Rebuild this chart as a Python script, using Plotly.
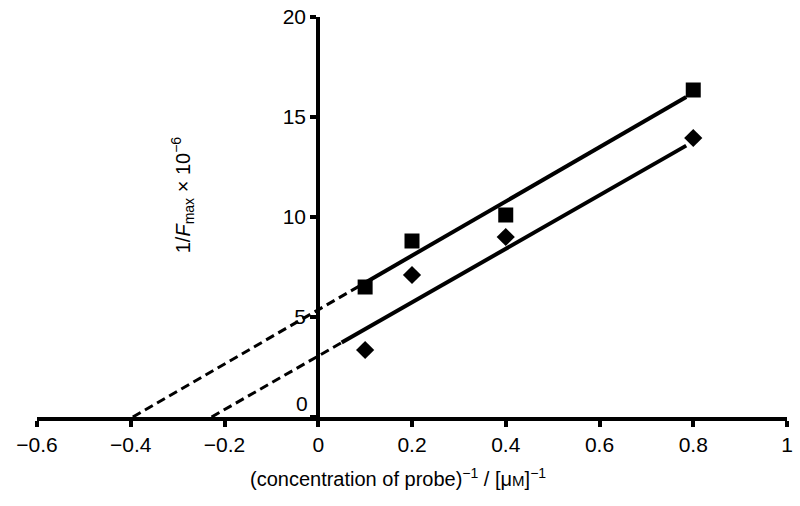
import plotly.graph_objects as go

# Data
conc_inv = [0.1, 0.2, 0.4, 0.8]
squares_y = [6.5, 8.8, 10.1, 16.35]
diamonds_y = [3.35, 7.1, 9.0, 13.95]

# Fitted lines (slope, intercept)
sq_slope, sq_int = 13.55, 5.36
di_slope, di_int = 13.4, 3.05
sq_solid_start, di_solid_start = 0.1, 0.05
fit_end = 0.785

x_ticks = [-0.6, -0.4, -0.2, 0, 0.2, 0.4, 0.6, 0.8, 1]
y_ticks = [0, 5, 10, 15, 20]
y_ticktext = ["", "5", "10", "15", "20"]

FONT = "Liberation Sans, Arial, sans-serif"

def line_pts(m, b, x0, x1):
    return [x0, x1], [m * x0 + b, m * x1 + b]

fig = go.Figure()

for m, b, xs in [(sq_slope, sq_int, sq_solid_start), (di_slope, di_int, di_solid_start)]:
    x_zero = -b / m
    dx, dy = line_pts(m, b, x_zero, xs)
    fig.add_trace(go.Scatter(x=dx, y=dy, mode="lines",
                             line=dict(color="black", width=3, dash="9px,5px"),
                             showlegend=False, hoverinfo="skip"))
    sx, sy = line_pts(m, b, xs, fit_end)
    fig.add_trace(go.Scatter(x=sx, y=sy, mode="lines",
                             line=dict(color="black", width=4),
                             showlegend=False, hoverinfo="skip"))

fig.add_trace(go.Scatter(x=conc_inv, y=squares_y, mode="markers",
                         marker=dict(symbol="square", size=15, color="black"),
                         showlegend=False, cliponaxis=False))
fig.add_trace(go.Scatter(x=conc_inv, y=diamonds_y, mode="markers",
                         marker=dict(symbol="diamond", size=14, color="black"),
                         showlegend=False, cliponaxis=False))

fig.update_layout(
    width=800, height=506,
    margin=dict(l=37, r=13, t=17, b=89),
    plot_bgcolor="white", paper_bgcolor="white",
    font=dict(family=FONT, size=20, color="black"),
    xaxis=dict(range=[-0.6, 1], domain=[0, 1], tickvals=x_ticks,
               showline=True, linewidth=4, linecolor="black",
               ticks="outside", ticklen=6, tickwidth=3.5, tickcolor="black",
               showgrid=False, zeroline=False, automargin=False,
               tickfont=dict(size=21, family=FONT)),
    yaxis=dict(range=[0, 20], anchor="free", position=0.375,
               tickvals=y_ticks, ticktext=y_ticktext,
               showline=True, linewidth=4, linecolor="black",
               ticks="outside", ticklen=6, tickwidth=3.5, tickcolor="black",
               showgrid=False, zeroline=False, automargin=False,
               tickfont=dict(size=21, family=FONT)),
    annotations=[
        dict(x=0, y=0, xref="x", yref="y", text="0", showarrow=False,
             xanchor="right", yanchor="bottom", xshift=-8, yshift=0,
             font=dict(size=21, family=FONT)),
        dict(x=0.195, y=0.555, xref="paper", yref="paper", textangle=-90,
             xanchor="center", yanchor="middle",
             text="1/<i>F</i><sub>max</sub> × 10<sup>−6</sup>", showarrow=False,
             font=dict(size=20, family=FONT)),
        dict(x=0.481, y=-0.152, xref="paper", yref="paper", yanchor="middle",
             text="(concentration of probe)<sup>−1</sup> / [μ<span style='font-size:15px'>M</span>]<sup>−1</sup>",
             showarrow=False, font=dict(size=20, family=FONT)),
    ],
)

fig.write_html("out.html", config={"displayModeBar": False},
               post_script="document.body.style.margin='0';document.body.style.overflow='hidden';")
